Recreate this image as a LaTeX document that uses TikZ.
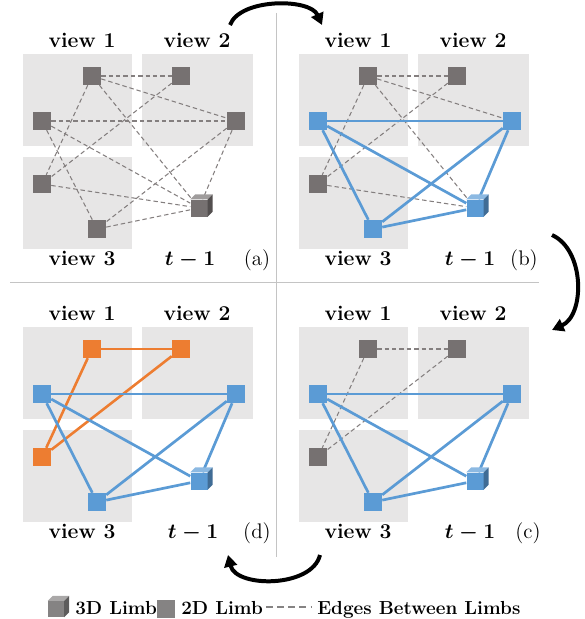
\documentclass[tikz,border=0pt]{standalone}
\usepackage{amsmath}
\usepackage{xcolor}
\usepackage{tikz}
\usetikzlibrary{arrows.meta,calc}

\definecolor{limbgray}{HTML}{767171}
\definecolor{limbblue}{HTML}{5B9BD5}
\definecolor{limborange}{HTML}{ED7D31}
\definecolor{keygray}{HTML}{858383}
\definecolor{viewbg}{HTML}{E7E6E6}
\definecolor{divider}{HTML}{C4C4C4}

\tikzset{
  limb/.style={rectangle, minimum size=0.54cm, inner sep=0pt},
  gray2d/.style={limb, fill=limbgray},
  blue2d/.style={limb, fill=limbblue},
  orange2d/.style={limb, fill=limborange},
  limb3d/.style={minimum size=0.51cm},
  dashedge/.style={draw=limbgray!90, line width=0.9pt, dash pattern=on 3.8pt off 2.5pt},
  blueedge/.style={draw=limbblue, line width=2.3pt},
  orangeedge/.style={draw=limborange, line width=2.2pt},
  lbl/.style={font=\Large\bfseries, scale=1.25, anchor=base, inner sep=0pt},
  tagtext/.style={font=\Large, scale=1.25, anchor=base, inner sep=0pt},
  keytext/.style={font=\Large\bfseries, scale=1.12, anchor=base west, inner sep=0pt},
  turn/.style={line width=3.4pt, -{Triangle[length=10pt,width=11pt]}}
}

\begin{document}
\begin{tikzpicture}[x=0.03cm, y=-0.03cm]
  \useasboundingbox (0,0) rectangle (584,619);

  % dividers
  \draw[divider, line width=0.6pt] (276,13) -- (276,557);
  \draw[divider, line width=0.6pt] (10,282) -- (539,282);

  % view boxes
  \foreach \dx/\dy in {0/0,276/0,0/273,276/273} {
    \fill[viewbg] (23+\dx,54+\dy) rectangle (132+\dx,146+\dy);
    \fill[viewbg] (142+\dx,54+\dy) rectangle (253+\dx,146+\dy);
    \fill[viewbg] (23+\dx,157+\dy) rectangle (132+\dx,249+\dy);
  }

  % labels
  \node[lbl] (av1) at (82,48) {view 1};
  \node[lbl] (av2) at (197,48) {view 2};
  \node[lbl] (av3) at (82,265) {view 3};
  \node[lbl] (atm) at (190,265) {$\boldsymbol{t-1}$};
  \node[tagtext] (atg) at (257,265) {(a)};
  \node[lbl] (bv1) at (358,48) {view 1};
  \node[lbl] (bv2) at (473,48) {view 2};
  \node[lbl] (bv3) at (358,265) {view 3};
  \node[lbl] (btm) at (470,265) {$\boldsymbol{t-1}$};
  \node[tagtext] (btg) at (524,265) {(b)};
  \node[lbl] (dv1) at (82,320) {view 1};
  \node[lbl] (dv2) at (197,320) {view 2};
  \node[lbl] (dv3) at (82,538) {view 3};
  \node[lbl] (dtm) at (193,538) {$\boldsymbol{t-1}$};
  \node[tagtext] (dtg) at (257,538) {(d)};
  \node[lbl] (cv1) at (358,320) {view 1};
  \node[lbl] (cv2) at (473,320) {view 2};
  \node[lbl] (cv3) at (358,538) {view 3};
  \node[lbl] (ctm) at (470,538) {$\boldsymbol{t-1}$};
  \node[tagtext] (ctg) at (528,538) {(c)};

  % limbs (a)
  \node[gray2d] (aA) at (92,76) {};
  \node[gray2d] (aB) at (181,76) {};
  \node[gray2d] (aC) at (42,121) {};
  \node[gray2d] (aD) at (236,121) {};
  \node[gray2d] (aE) at (42,184) {};
  \node[gray2d] (aF) at (97,229) {};
  \node[gray2d, limb3d] (aG) at (199,208) {};
  % limbs (b)
  \node[gray2d] (bA) at (368,76) {};
  \node[gray2d] (bB) at (457,76) {};
  \node[blue2d] (bC) at (318,121) {};
  \node[blue2d] (bD) at (512,121) {};
  \node[gray2d] (bE) at (318,184) {};
  \node[blue2d] (bF) at (373,229) {};
  \node[blue2d, limb3d] (bG) at (475,208) {};
  % limbs (d)
  \node[orange2d] (dA) at (92,349) {};
  \node[orange2d] (dB) at (181,349) {};
  \node[blue2d] (dC) at (42,394) {};
  \node[blue2d] (dD) at (236,394) {};
  \node[orange2d] (dE) at (42,457) {};
  \node[blue2d] (dF) at (97,502) {};
  \node[blue2d, limb3d] (dG) at (199,481) {};
  % limbs (c)
  \node[gray2d] (cA) at (368,349) {};
  \node[gray2d] (cB) at (457,349) {};
  \node[blue2d] (cC) at (318,394) {};
  \node[blue2d] (cD) at (512,394) {};
  \node[gray2d] (cE) at (318,457) {};
  \node[blue2d] (cF) at (373,502) {};
  \node[blue2d, limb3d] (cG) at (475,481) {};

  % edges
  \foreach \u/\v in {A/B,A/D,A/E,A/G,B/E,C/D,C/F,C/G,D/F,D/G,E/G,F/G}
    \draw[dashedge] (a\u) -- (a\v);
  \foreach \u/\v in {A/B,A/D,A/E,A/G,B/E,E/G}
    \draw[dashedge] (b\u) -- (b\v);
  \foreach \u/\v in {A/B,A/E,B/E} {
    \draw[dashedge] (c\u) -- (c\v);
    \draw[orangeedge] (d\u) -- (d\v);
  }
  \foreach \p in {b,c,d}
    \foreach \u/\v in {C/D,C/F,C/G,D/F,D/G,F/G}
      \draw[blueedge] (\p\u) -- (\p\v);

  % legend
  \node[limb, fill=keygray, minimum size=0.48cm] (k3d) at (56,609) {};
  \node[keytext] (k3dtext) at (75,614) {3D Limb};
  \node[limb, fill=keygray] (k2d) at (166,609) {};
  \node[keytext] (k2dtext) at (181,614) {2D Limb};
  \draw[keygray, line width=1.4pt, dash pattern=on 6pt off 3.5pt] (266,607) -- (312,607);
  \node[keytext] (kedge) at (317,614) {Edges Between Limbs};

  % cube faces of the 3D limbs
  \foreach \n/\c in {aG/limbgray,bG/limbblue,cG/limbblue,dG/limbblue,k3d/keygray} {
    \fill[\c!70!white] (\n.north west) -- ++(5,-5) -- ($(\n.north east)+(5,-5)$) -- (\n.north east) -- cycle;
    \fill[\c!70!black] (\n.north east) -- ++(5,-5) -- ($(\n.south east)+(5,-5)$) -- (\n.south east) -- cycle;
  }

  % turning arrows
  \draw[turn] (230,25) .. controls (240,-2) and (310,-2) .. (322,25);
  \draw[turn] (552,235) .. controls (585,250) and (585,315) .. (552,330);
  \draw[turn] (320,555) .. controls (312,588) and (236,588) .. (228,555);
\end{tikzpicture}
\end{document}
